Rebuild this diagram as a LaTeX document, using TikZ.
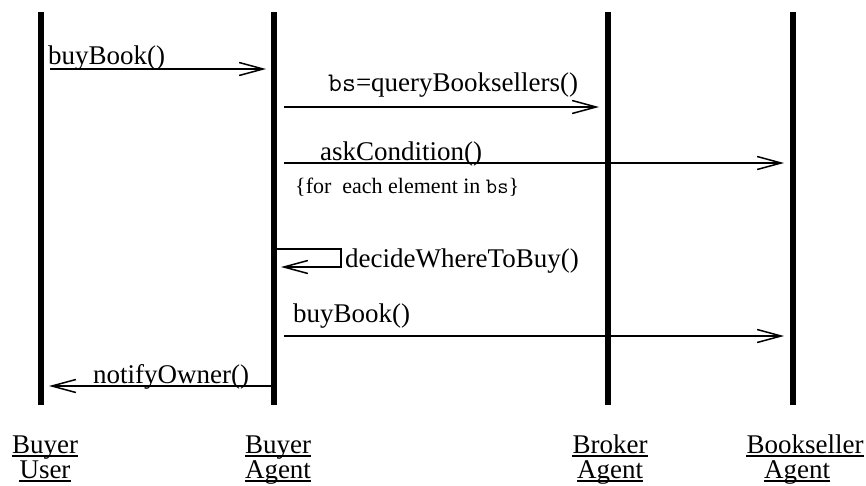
\documentclass[tikz,border=0pt]{standalone}
\usepackage{fontspec}
\setmainfont{Liberation Serif}
\usetikzlibrary{arrows.meta}

\tikzset{
  lifeline/.style={line width=6pt},
  msg/.style={line width=1.5pt, -{Straight Barb[length=24pt,width=13pt,line width=1.5pt]}},
  lbl/.style={inner sep=0pt, anchor=base west, font=\fontsize{27}{32}\selectfont},
  note/.style={inner sep=0pt, anchor=base west, font=\fontsize{22}{26}\selectfont},
  role/.style={inner sep=0pt, anchor=base, font=\fontsize{27}{32}\selectfont},
  uline/.style={line width=1.5pt}
}

\newcommand{\rolelabel}[3]{%
  \node[role] (#1) at (#2) {#3};
  \draw[uline] ([yshift=-3pt]#1.base west) -- ([yshift=-3pt]#1.base east);
}

\begin{document}
\begin{tikzpicture}[x=1pt, y=-1pt]
  \useasboundingbox (0,0) rectangle (866,485);

  % lifelines
  \coordinate (uT) at (41,12);   \coordinate (uB) at (41,405);
  \coordinate (aT) at (274,12);  \coordinate (aB) at (274,405);
  \coordinate (kT) at (608,12);  \coordinate (kB) at (608,405);
  \coordinate (sT) at (793,12);  \coordinate (sB) at (793,405);

  % message end points
  \coordinate (m1s) at (50,69);   \coordinate (m1e) at (266,69);
  \coordinate (m2s) at (284,107); \coordinate (m2e) at (599,107);
  \coordinate (m3s) at (284,163); \coordinate (m3e) at (784,163);
  \coordinate (m4a) at (277,249); \coordinate (m4b) at (341,249);
  \coordinate (m4c) at (341,267); \coordinate (m4e) at (281,267);
  \coordinate (m5s) at (284,336); \coordinate (m5e) at (784,336);
  \coordinate (m6s) at (271,386); \coordinate (m6e) at (49,386);

  % messages
  \draw[msg] (m1s) -- (m1e);
  \draw[msg] (m2s) -- (m2e);
  \draw[msg] (m3s) -- (m3e);
  \draw[msg] (m4a) -- (m4b) -- (m4c) -- (m4e);
  \draw[msg] (m5s) -- (m5e);
  \draw[msg] (m6s) -- (m6e);

  \draw[lifeline] (uT) -- (uB);
  \draw[lifeline] (aT) -- (aB);
  \draw[lifeline] (kT) -- (kB);
  \draw[lifeline] (sT) -- (sB);

  % message labels
  \node[lbl] (t1) at (48,64)   {buyBook()};
  \node[lbl] (t2) at (328,91)  {\texttt{bs}=queryBooksellers()};
  \node[lbl] (t3) at (320,160) {askCondition()};
  \node[note] (t3n) at (295,193) {\{for\ \ each element in \texttt{bs}\}};
  \node[lbl] (t4) at (345,267) {decideWhereToBuy()};
  \node[lbl] (t5) at (293,322) {buyBook()};
  \node[lbl] (t6) at (93,383)  {notifyOwner()};

  % participant names
  \rolelabel{r1a}{45,453}{Buyer}
  \rolelabel{r1b}{45,478}{User}
  \rolelabel{r2a}{278,453}{Buyer}
  \rolelabel{r2b}{278,478}{Agent}
  \rolelabel{r3a}{610,453}{Broker}
  \rolelabel{r3b}{610,478}{Agent}
  \rolelabel{r4a}{805,453}{Bookseller}
  \rolelabel{r4b}{797,478}{Agent}
\end{tikzpicture}
\end{document}
